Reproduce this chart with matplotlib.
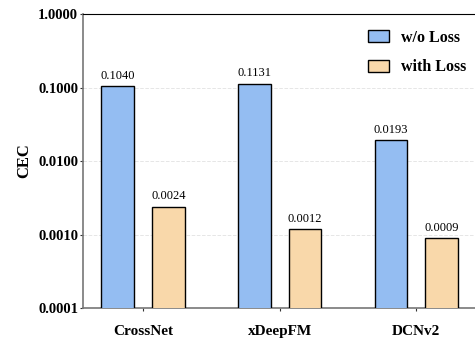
import numpy as np
import matplotlib.pyplot as plt

models = ['CrossNet', 'xDeepFM', 'DCNv2']
wo_loss = [0.1040, 0.1131, 0.0193]
with_loss = [0.0024, 0.0012, 0.0009]
yticks = [0.0001, 0.001, 0.01, 0.1, 1.0]

plt.rcParams['font.family'] = ['Liberation Serif', 'DejaVu Serif']


def plot():
    fig = plt.figure(figsize=(4.75, 3.39), dpi=100)
    ax = fig.add_axes([0.1747, 0.0914, 0.8253, 0.8673])

    x = np.arange(len(models))
    w = 0.24
    off = 0.185
    b1 = ax.bar(x - off, wo_loss, w, color='#94BDF2', edgecolor='black',
                linewidth=1.0, label='w/o Loss', zorder=3)
    b2 = ax.bar(x + off, with_loss, w, color='#F9D8AA', edgecolor='black',
                linewidth=1.0, label='with Loss', zorder=3)

    for bars, vals in ((b1, wo_loss), (b2, with_loss)):
        for bar, v in zip(bars, vals):
            ax.annotate(f'{v:.4f}', (bar.get_x() + bar.get_width() / 2, v),
                        xytext=(0, 3), textcoords='offset points',
                        ha='center', va='bottom', fontsize=9)

    ax.set_yscale('log')
    ax.set_ylim(0.0001, 1.0)
    ax.set_yticks(yticks)
    ax.set_yticklabels([f'{t:.4f}' for t in yticks], fontweight='bold', fontsize=10.5)
    ax.minorticks_off()
    ax.set_xlim(-0.44, 2.43)
    ax.set_xticks(x)
    ax.set_xticklabels(models, fontweight='bold', fontsize=11)
    ax.set_ylabel('CEC', fontweight='bold', fontsize=12)
    ax.yaxis.grid(True, linestyle='--', color='#e6e6e6', linewidth=0.7, zorder=0)

    ax.spines['right'].set_visible(False)
    ax.spines['top'].set_color('black')
    ax.spines['left'].set_color('#777777')
    ax.spines['bottom'].set_color('#777777')
    ax.spines['left'].set_linewidth(1.2)
    ax.spines['bottom'].set_linewidth(1.2)
    ax.tick_params(axis='y', length=2.5, pad=1, color='#333333')
    ax.tick_params(axis='x', length=2.5, pad=10, color='#333333')

    ax.legend(loc='upper right', frameon=False, prop={'weight': 'bold', 'size': 11.5},
              handlelength=1.35, handleheight=0.75, handletextpad=0.75,
              labelspacing=0.85, bbox_to_anchor=(1.015, 0.995))

    fig.savefig('out.png', dpi=100)


if __name__ == '__main__':
    plot()
